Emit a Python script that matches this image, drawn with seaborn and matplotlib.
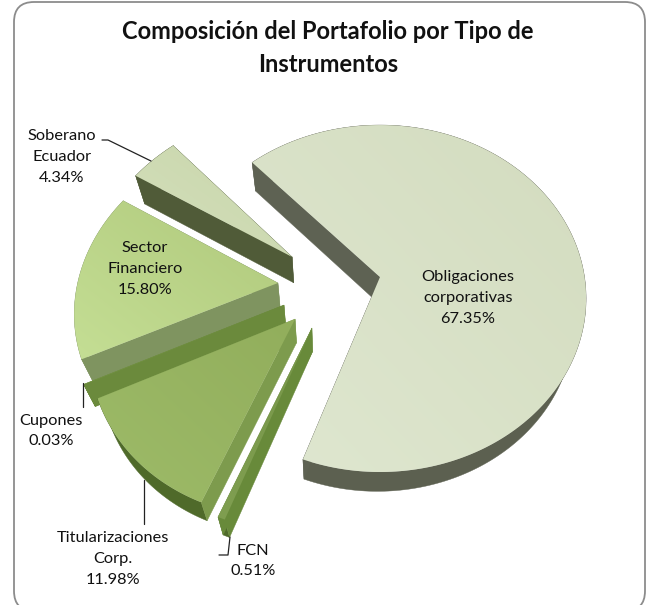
import numpy as np
import matplotlib
matplotlib.use("Agg")
import matplotlib.pyplot as plt
from matplotlib.patches import FancyBboxPatch, Polygon
import seaborn as sns

# ---- data ----
categories = ["Obligaciones\ncorporativas", "FCN", "Titularizaciones\nCorp.",
              "Cupones", "Sector\nFinanciero", "Soberano\nEcuador"]
values = [67.35, 0.51, 11.98, 0.03, 15.80, 4.34]

# ---- layout / style ----
START_ANGLE = 133.0
slice_offsets = [(0, 0), (-.321, -.288), (-.403, -.239), (-.46, -.161), (-.497, -.035), (-.436, .119)]
slice_radius = [1, .975, .96, .98, .975, 1]
face_from = ["#dfe7d0", "#7f9e50", "#9dbb68", "#7a9a48", "#c4de94", "#d4dfbc"]
face_to = ["#d3dcbf", "#78974a", "#92ae5c", "#7a9a48", "#b0c97c", "#c8d6aa"]
edge_colors = ["#5e6253", "#688a3a", "#7d9b4d", "#6b8a3c", "#7f9460", "#505b38"]
rim_colors = ["#5c6050", "#4f6a2a", "#4f6a2a", "#6b8a3c", "#7f9460", "#505b38"]
label_pos = [(468, 298), (253, 561), (113, 559), (51, 431), (145, 269), (62, 157)]
leaders = [None,
           [(230, 537), (228, 555), (219, 555)],
           [(144, 480), (144, 524)],
           [(83, 383), (83, 407)],
           None,
           [(102, 140), (108, 140), (151, 161)]]
CX, CY, A, B, K = 380, 277, 204.5, 170.8, .124
VX, SX, SY, DY = 325, .952, .97, 33.5
FONT = "Lato"

sns.set_theme(style="white")
plt.rcParams["font.family"] = FONT


def project(u, v):
    w = 1 + K * v
    return CX + A * u / w, CY - B * v / w


def lower(x, y):
    return VX + SX * (x - VX), SY * y + DY


fig = plt.figure(figsize=(6.48, 6.05), dpi=100, facecolor="white")
ax = fig.add_axes([0, 0, 1, 1])
ax.set_axis_off()

ax.add_patch(FancyBboxPatch((14, 2), 631, 609, boxstyle="round,pad=0,rounding_size=20",
                            fc="white", ec="#8c8c8c", lw=1.3, zorder=0))


def face_gradient(poly_xy, c0, c1, zorder):
    poly = Polygon(poly_xy, closed=True, fc="none", ec="none", transform=ax.transData)
    ax.add_patch(poly)
    x0, y0 = poly_xy.min(axis=0)
    x1, y1 = poly_xy.max(axis=0)
    yy, xx = np.mgrid[0:1:60j, 0:1:60j]
    t = (xx + 1 - yy) / 2
    cmap = sns.blend_palette([c0, c1], as_cmap=True)
    im = ax.imshow(t, cmap=cmap, vmin=0, vmax=1, extent=(x0, x1, y1, y0),
                   aspect="auto", interpolation="bilinear", zorder=zorder)
    im.set_clip_path(poly)


angles = START_ANGLE - np.cumsum([0] + values) / sum(values) * 360
for i, v in enumerate(values):
    th = np.radians(np.linspace(angles[i], angles[i + 1], 240))
    du, dv = slice_offsets[i]
    r = slice_radius[i]
    ax_, ay_ = project(du + r * np.cos(th), dv + r * np.sin(th))
    cx_, cy_ = project(du, dv)
    z = 2 + [0, 5, 4, 3, 2, 1].index(i) * 2
    arc = np.column_stack([ax_, ay_])
    arc_low = np.column_stack(lower(ax_, ay_))
    c = np.array([[cx_, cy_]])
    c_low = np.array([lower(cx_, cy_)])
    # side walls
    ax.fill(*np.vstack([arc, arc_low[::-1]]).T, color=rim_colors[i], lw=.3, zorder=z)
    for end in (arc[:1], arc[-1:]):
        end_low = np.array([lower(*end[0])])
        ax.fill(*np.vstack([c, end, end_low, c_low]).T, color=edge_colors[i], lw=.3, zorder=z)
    # top face
    face = np.vstack([c, arc])
    face_gradient(face, face_from[i], face_to[i], z + 1)
    # label
    x, y = label_pos[i]
    ax.text(x, y, f"{categories[i]}\n{v:.2f}%", ha="center", va="center", fontsize=11.8,
            linespacing=1.62, color="#111111", zorder=30)
    if leaders[i]:
        ax.plot(*zip(*leaders[i]), color="#222222", lw=.9, zorder=29)

ax.text(328, 48, "Composición del Portafolio por Tipo de\nInstrumentos", ha="center", va="center",
        fontsize=17, fontweight="bold", linespacing=1.48, color="#111111", zorder=30)

ax.set_xlim(0, 648)
ax.set_ylim(605, 0)
fig.savefig("out.png", dpi=100)
